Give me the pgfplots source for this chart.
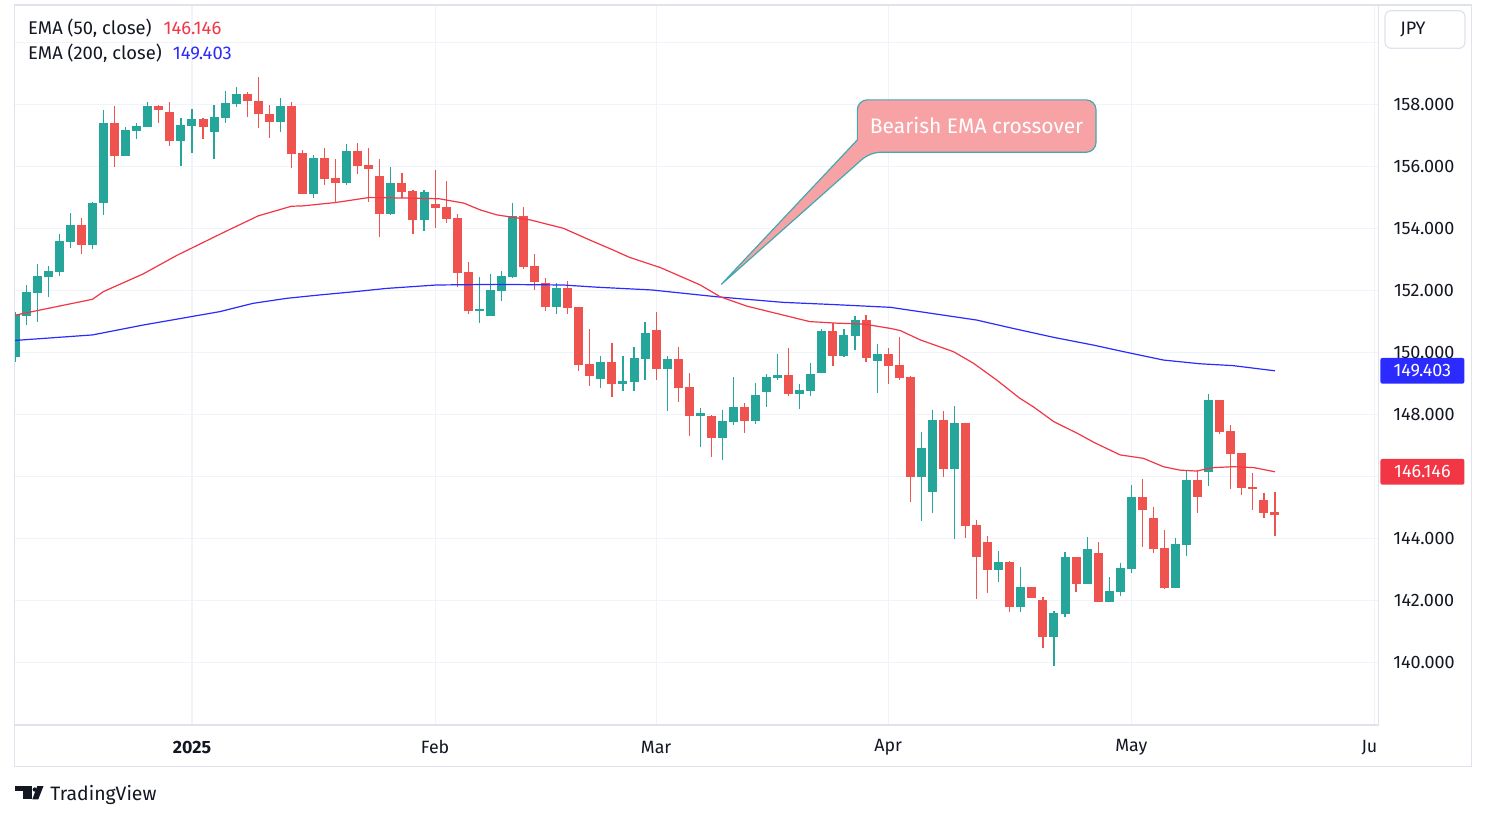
\documentclass[border=0pt]{standalone}
\usepackage{pgfplots}
\pgfplotsset{compat=1.18}
\usepackage{pgfplotstable}
\usepackage{fontspec}
\setmainfont{Fira Sans}
\definecolor{upc}{HTML}{26A69A}
\definecolor{dnc}{HTML}{EF5350}
\definecolor{emaR}{HTML}{F23645}
\definecolor{emaB}{HTML}{2B2BFF}
\definecolor{gridc}{HTML}{F0F3FA}
\definecolor{framec}{HTML}{E0E3EB}
\definecolor{txt}{HTML}{131722}
\definecolor{cfill}{HTML}{F7A3A5}
\definecolor{cdraw}{HTML}{45A7AF}

\pgfplotstableread{
x o h l c
-16 149.84 151.30 149.70 151.20
-15 151.18 152.17 150.88 151.95
-14 151.92 152.85 150.99 152.46
-13 152.44 152.78 151.80 152.62
-12 152.60 153.82 152.47 153.59
-11 153.57 154.48 153.35 154.11
-9 153.47 154.85 153.34 154.82
-8 154.80 157.82 154.43 157.40
-6 156.34 157.26 156.34 157.17
-5 157.15 157.40 156.88 157.30
-4 157.28 158.08 157.28 157.95
-1 156.83 157.56 156.01 157.33
0 157.31 157.85 156.44 157.53
2 157.12 157.98 156.25 157.59
3 157.57 158.43 157.38 158.04
4 158.02 158.56 157.92 158.33
8 157.44 158.20 157.09 157.95
11 155.09 156.37 154.99 156.27
14 155.47 156.72 155.38 156.49
18 154.47 155.98 154.44 155.46
21 154.28 155.24 153.92 155.17
26 151.34 152.43 150.96 151.40
27 151.18 152.53 151.18 152.01
28 151.99 152.62 151.67 152.46
29 152.44 154.82 152.38 154.40
33 151.47 152.25 151.25 152.09
37 149.15 149.88 148.86 149.69
39 148.99 149.88 148.76 149.09
40 149.05 150.17 148.76 149.82
41 149.80 150.98 149.12 150.62
43 149.47 149.88 148.12 149.78
46 147.96 148.22 146.96 148.04
48 147.25 148.14 146.54 147.78
49 147.76 149.20 147.67 148.24
51 147.80 149.01 147.70 148.62
52 148.73 149.30 148.22 149.20
53 149.18 149.95 149.12 149.27
55 148.67 148.98 148.18 148.78
56 148.76 149.66 148.60 149.30
57 149.34 150.75 149.34 150.69
59 149.89 150.75 149.86 150.56
60 150.53 151.17 150.08 151.04
62 149.73 150.27 148.70 149.95
66 145.99 147.43 144.56 146.91
67 145.49 148.14 144.82 147.82
69 146.22 148.27 143.99 147.72
73 142.99 143.59 142.60 143.24
75 141.80 143.08 141.63 142.43
78 140.83 141.66 139.89 141.59
79 141.56 143.56 141.46 143.40
81 142.54 144.04 142.54 143.66
83 141.96 142.75 141.96 142.30
84 142.27 143.20 142.14 143.04
85 143.01 145.72 142.89 145.33
89 142.40 144.01 142.40 143.82
90 143.78 146.17 143.43 145.88
92 146.14 148.66 145.69 148.46
}\upT

\pgfplotstableread{
x o h l c
-10 154.11 154.33 153.18 153.47
-7 157.40 157.95 155.96 156.34
-3 157.95 157.97 157.38 157.80
-2 157.75 158.08 156.66 156.83
1 157.53 157.56 156.89 157.25
5 158.33 158.40 157.60 158.09
6 158.11 158.88 157.25 157.67
7 157.69 157.98 156.92 157.44
9 157.95 158.08 155.96 156.41
10 156.43 156.53 155.09 155.09
12 156.27 156.59 155.40 155.60
13 155.62 156.24 154.83 155.47
15 156.49 156.75 155.76 156.02
16 156.04 156.59 154.86 155.92
17 155.69 156.24 153.73 154.47
19 155.46 155.78 154.99 155.18
20 155.20 155.24 153.80 154.28
22 154.78 155.88 154.02 154.67
23 154.69 155.53 154.18 154.31
24 154.33 154.46 152.12 152.57
25 152.59 152.91 151.25 151.34
30 154.40 154.69 152.70 152.76
31 152.78 153.17 152.02 152.28
32 152.22 152.40 151.34 151.47
34 152.09 152.30 151.25 151.44
35 151.47 151.47 149.41 149.60
36 149.63 150.75 148.92 149.22
38 149.69 150.30 148.57 148.99
42 150.72 151.30 149.11 149.47
44 149.78 150.17 148.41 148.86
45 148.88 149.33 147.31 147.96
47 147.96 147.98 146.63 147.25
50 148.24 148.37 147.41 147.80
54 149.27 150.14 148.60 148.67
58 150.69 150.95 149.57 149.89
61 151.04 151.20 149.70 149.80
63 149.95 150.14 148.99 149.57
64 149.59 150.49 149.12 149.18
65 149.20 149.24 145.17 145.99
68 147.82 148.11 145.99 146.22
70 147.72 147.72 144.02 144.41
71 144.43 144.59 142.04 143.41
72 143.88 144.08 142.25 142.99
74 143.24 143.27 141.63 141.80
76 142.43 142.43 142.09 142.09
77 142.01 142.11 140.47 140.83
80 143.40 143.40 142.28 142.54
82 143.53 143.88 141.96 141.96
86 145.33 145.91 143.72 144.92
87 144.66 145.01 143.54 143.66
88 143.69 144.27 142.37 142.40
91 145.88 146.17 144.83 145.34
93 148.46 148.46 147.38 147.44
94 147.46 147.66 145.60 146.73
95 146.75 146.75 145.41 145.63
96 145.65 146.11 144.92 145.62
97 145.24 145.46 144.67 144.83
98 144.85 145.49 144.09 144.76
}\dnT

\begin{document}
\begin{tikzpicture}
\fill[white] (-7.25pt,-47.5pt) rectangle (736.25pt,362.5pt);
\begin{axis}[
  at={(0pt,0pt)}, anchor=south west,
  scale only axis, width=682pt, height=360pt,
  xmin=-16.06, xmax=107.37, ymin=137.98, ymax=161.2,
  axis line style={draw=framec, line width=0.6pt},
  xtick={0,22,42,63,85,107},
  xticklabels={\textbf{2025},Feb,Mar,Apr,May,\hspace*{-5pt}Ju},
  ytick={140,142,144,146,148,150,152,154,156,158,160},
  yticklabels={140.000,142.000,144.000,{},148.000,150.000,152.000,154.000,156.000,158.000,{}},
  yticklabel pos=right,
  major tick length=0pt,
  grid=major, major grid style={draw=gridc, line width=0.6pt},
  xticklabel style={anchor=center, yshift=-11.15pt, font=\fontsize{8.9}{10}\selectfont, text=txt},
  yticklabel style={anchor=center, xshift=22.75pt, font=\fontsize{9}{10}\selectfont, text=txt},
  clip=true,
]
% wicks
\addplot[draw=none, mark=none, forget plot, error bars/.cd, y dir=both, y explicit, error mark=none,
  error bar style={draw=upc, line width=0.6pt, solid}]
  table[x=x, y expr={(\thisrow{h}+\thisrow{l})/2}, y error expr={(\thisrow{h}-\thisrow{l})/2}] {\upT};
\addplot[draw=none, mark=none, forget plot, error bars/.cd, y dir=both, y explicit, error mark=none,
  error bar style={draw=dnc, line width=0.6pt, solid}]
  table[x=x, y expr={(\thisrow{h}+\thisrow{l})/2}, y error expr={(\thisrow{h}-\thisrow{l})/2}] {\dnT};
% bodies
\addplot[draw=none, mark=none, forget plot, error bars/.cd, y dir=both, y explicit, error mark=none,
  error bar style={draw=upc, line width=4.5pt, solid}]
  table[x=x, y expr={(\thisrow{o}+\thisrow{c})/2}, y error expr={abs(\thisrow{o}-\thisrow{c})/2}] {\upT};
\addplot[draw=none, mark=none, forget plot, error bars/.cd, y dir=both, y explicit, error mark=none,
  error bar style={draw=dnc, line width=4.5pt, solid}]
  table[x=x, y expr={(\thisrow{o}+\thisrow{c})/2}, y error expr={abs(\thisrow{o}-\thisrow{c})/2}] {\dnT};
% EMA 200
\addplot[emaB, line width=0.6pt, mark=none] coordinates {
(-16.1,150.38) (-9.0,150.56) (-4.4,150.88) (2.5,151.31) (5.55,151.58) (8.57,151.74)
(11.58,151.85) (14.6,151.95) (17.6,152.06) (22.1,152.17) (27.6,152.19) (33.6,152.17)
(36.6,152.10) (41.6,152.01) (47.5,151.79) (53.5,151.61) (58.0,151.54) (63.2,151.45)
(71.0,151.04) (74.3,150.77) (78.0,150.48) (81.6,150.23) (84.3,150.02) (87.9,149.75)
(91.2,149.63) (94.2,149.57) (98.0,149.403)};
% EMA 50
\addplot[emaR, line width=0.6pt, mark=none] coordinates {
(-16.1,151.19) (-9.0,151.71) (-8.0,151.96) (-4.4,152.53) (-1.4,153.12) (3.0,153.89)
(6.0,154.40) (9.0,154.71) (10.0,154.72) (13.0,154.83) (16.0,154.99) (20.2,154.97)
(22.4,154.95) (24.6,154.81) (26.1,154.59) (27.6,154.43) (30.6,154.27) (33.6,154.00)
(36.0,153.62) (38.1,153.30) (39.6,153.06) (42.4,152.73) (46.0,152.17) (47.8,151.79)
(50.2,151.49) (53.5,151.20) (55.9,150.99) (58.3,150.94) (60.8,150.91) (63.2,150.77)
(64.1,150.70) (65.9,150.40) (68.9,150.02) (70.7,149.65) (72.8,149.11) (74.9,148.52)
(76.1,148.25) (78.0,147.76) (80.1,147.39) (81.7,147.08) (84.0,146.69) (86.1,146.58)
(87.9,146.31) (89.4,146.20) (90.9,146.17) (92.4,146.28) (94.2,146.31) (96.1,146.28)
(98.0,146.146)};
% callout
\filldraw[fill=cfill, draw=cdraw, line width=0.6pt]
  (axis cs:61.36,156.45) -- (axis cs:47.9,152.19) -- (axis cs:60.21,156.85)
  [rounded corners=5pt] -- (axis cs:60.21,158.14) -- (axis cs:81.81,158.14)
  -- (axis cs:81.81,156.45) -- cycle;
\node[text=white, font=\fontsize{10.5}{12}\selectfont] at (axis cs:71.0,157.31) {Bearish EMA crossover};
\coordinate (e50) at (axis cs:107.37,146.146);
\coordinate (e200) at (axis cs:107.37,149.403);
\end{axis}
% outer frame
\draw[framec, line width=0.6pt] (0pt,360pt) rectangle (728.6pt,-20.85pt);
% JPY box
\draw[framec, rounded corners=3pt, line width=0.6pt] (685.25pt,338.35pt) rectangle (725.25pt,357.15pt);
\node[font=\fontsize{9}{10}\selectfont, text=txt] at (699.25pt,347.6pt) {JPY};
% EMA value boxes
\node[fill=emaB, text=white, anchor=west, minimum width=42pt, minimum height=12.85pt, inner sep=0pt,
  rounded corners=1pt, font=\fontsize{9}{10}\selectfont] at ([xshift=0.75pt]e200) {149.403};
\node[fill=emaR, text=white, anchor=west, minimum width=42pt, minimum height=12.85pt, inner sep=0pt,
  rounded corners=1pt, font=\fontsize{9}{10}\selectfont] at ([xshift=0.75pt]e50) {146.146};
% legend
\node[anchor=base west, inner sep=0pt, font=\fontsize{9.2}{11}\selectfont, text=txt] at (6.6pt,345pt) {EMA (50, close)};
\node[anchor=base west, inner sep=0pt, font=\fontsize{9.2}{11}\selectfont, text=emaR] at (74.4pt,345pt) {146.146};
\node[anchor=base west, inner sep=0pt, font=\fontsize{9.2}{11}\selectfont, text=txt] at (6.6pt,332.6pt) {EMA (200, close)};
\node[anchor=base west, inner sep=0pt, font=\fontsize{9.2}{11}\selectfont, text=emaB] at (79.0pt,332.6pt) {149.403};
% TradingView logo
\fill[txt] (0.25pt,-30.5pt) rectangle (8.6pt,-33.15pt);
\fill[txt] (4.1pt,-30.5pt) rectangle (8.6pt,-37.15pt);
\fill[txt] (10.1pt,-32.25pt) circle (1.05pt);
\fill[txt] (11.4pt,-30.5pt) -- (14.5pt,-30.5pt) -- (11.9pt,-37.15pt) -- (8.9pt,-37.15pt) -- cycle;
\node[anchor=base west, inner sep=0pt, font=\fontsize{9.7}{12}\selectfont, text=txt] at (17.75pt,-37.9pt) {TradingView};
\pgfresetboundingbox
\path[use as bounding box] (-7.25pt,-47.5pt) rectangle (736.25pt,362.5pt);
\end{tikzpicture}
\end{document}
